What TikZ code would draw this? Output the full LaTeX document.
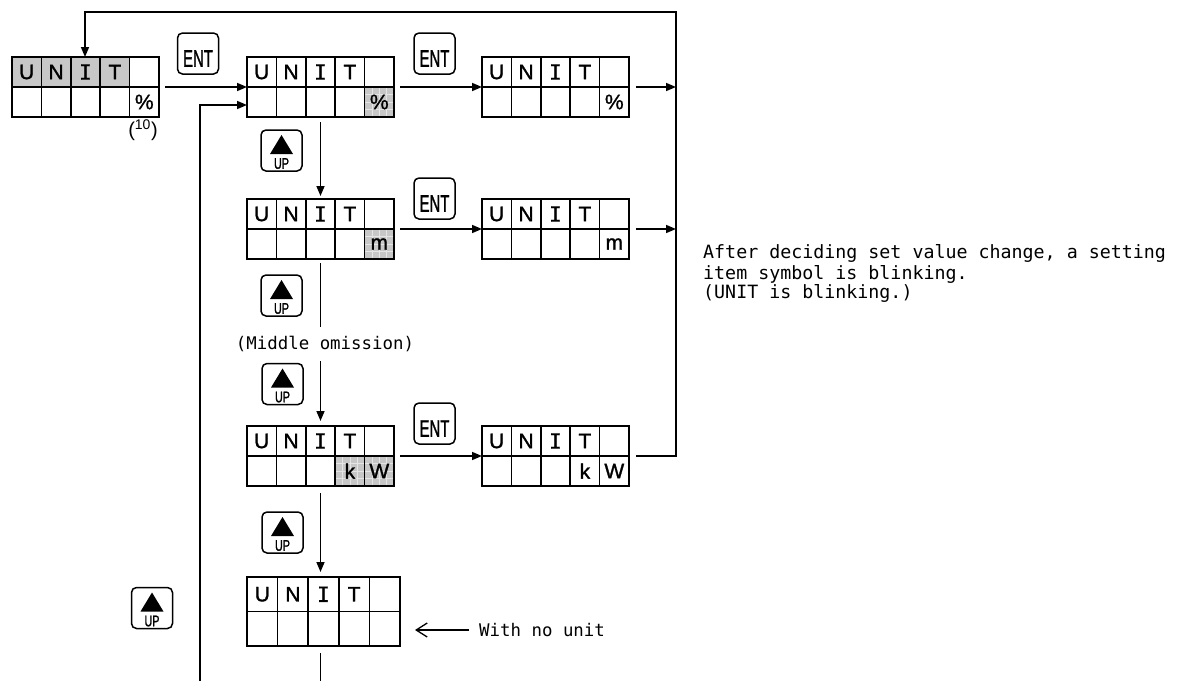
\documentclass[tikz,border=0pt]{standalone}
\usepackage{fontspec}
\setmainfont{Liberation Sans}
\newfontfamily\monof{DejaVu Sans Mono}
\newfontfamily\lcdf[FakeBold=1.3]{Liberation Sans}
\newfontfamily\lcdi[FakeBold=0.8]{DejaVu Sans Mono}
\newfontfamily\keyf[FakeBold=1.5]{Liberation Sans}
\usepackage{graphicx}
\usetikzlibrary{arrows.meta,calc}
\pgfdeclarelayer{bg}
\pgfsetlayers{bg,main}

\newcommand\lcd[5]{%
  \node[lcdframe, minimum width={5*#4}, minimum height={2*#5}, anchor=north west] (#1) at (#2,#3) {};
  \foreach \i in {1,...,4}{\draw[cellline] ($(#1.north west)+(\i*#4,0)$) -- ($(#1.south west)+(\i*#4,0)$);}
  \draw[cellline] (#1.west) -- (#1.east);
  \foreach \c [count=\i] in {U,N,{\lcdi I},T}{\node[lcdtxt] (#1-\i) at ($(#1.north west)+(\i*#4-#4/2,#5/2)$) {\c};}
}
\newcommand\lcdlow[5]{%
  \node[lcdtxt] (#1-low#2) at ($(#1.north west)+(#2*#3-#3/2,1.5*#4)$) {#5};}
\newcommand\shadeplain[5]{%
  \begin{pgfonlayer}{bg}
  \fill[lcdgray] ($(#1.north west)+(#2*#4-#4,#3*#5-#5)$) rectangle ($(#1.north west)+(#2*#4,#3*#5)$);
  \end{pgfonlayer}}
\newcommand\shadegrid[5]{%
  \begin{pgfonlayer}{bg}
  \fill[lcdgray] ($(#1.north west)+(#2*#4-#4,#3*#5-#5)$) rectangle ($(#1.north west)+(#2*#4,#3*#5)$);
  \foreach \k in {1,2,3}{%
    \draw[texline] ($(#1.north west)+(#2*#4-#4+\k*#4/4,#3*#5-#5)$) -- ++(0,#5);
    \draw[texline] ($(#1.north west)+(#2*#4-#4,#3*#5-#5+\k*#5/4)$) -- ++(#4,0);}
  \end{pgfonlayer}}
\newcommand\entkey[3]{%
  \node[keybox] (#1) at (#2,#3) {};
  \node[enttxt] (#1-t) at ([yshift=-5pt]#1.center) {\scalebox{0.62}[1]{ENT}};}
\newcommand\upkey[3]{%
  \node[keybox] (#1) at (#2,#3) {};
  \fill ([shift={(-11.5,3.5)}]#1.center) -- ([shift={(11.5,3.5)}]#1.center) -- ([shift={(0,-15.5)}]#1.center) -- cycle;
  \node[uptxt, anchor=base] (#1-t) at ([yshift=3pt]#1.south) {\scalebox{0.7}[1]{UP}};}

\begin{document}
\begin{tikzpicture}[x=1pt,y=-1pt,
  lcdframe/.style={draw, line width=2pt, inner sep=0pt, outer sep=0pt},
  cellline/.style={line width=1.6pt},
  lcdtxt/.style={font=\lcdf\fontsize{21}{21}\selectfont, inner sep=0pt},
  lcdgray/.style={fill=black!22},
  texline/.style={draw=black!10, line width=0.6pt},
  keybox/.style={draw, line width=1.5pt, rounded corners=5pt, minimum width=41pt, minimum height=41pt, inner sep=0pt},
  enttxt/.style={font=\keyf\fontsize{24}{24}\selectfont, inner sep=0pt},
  uptxt/.style={font=\keyf\fontsize{15.4}{16}\selectfont, inner sep=0pt},
  plain/.style={line width=1.6pt},
  arr/.style={line width=1.6pt, -{Triangle[length=10pt,width=8pt]}},
  openarr/.style={line width=1.3pt, -{Straight Barb[length=11pt,width=14pt]}},
  monotxt/.style={font=\monof\fontsize{17.4}{20}\selectfont, inner sep=0pt},
  notetxt/.style={font=\monof\fontsize{18.3}{21}\selectfont, inner sep=0pt, anchor=base west}]
\useasboundingbox (0,0) rectangle (1177,681);

% displays
\lcd{d1}{12}{57}{29.4}{30}
\lcdlow{d1}{5}{29.4}{30}{\%}
\foreach \j in {1,...,4}{\shadeplain{d1}{\j}{1}{29.4}{30}}
\node[font=\fontsize{20}{20}\selectfont, inner sep=0pt] (ten) at (143,130) {(\textsuperscript{10})};

\lcd{d2}{247}{57}{29.4}{30}
\lcdlow{d2}{5}{29.4}{30}{\%}
\shadegrid{d2}{5}{2}{29.4}{30}

\lcd{d3}{482}{57}{29.4}{30}
\lcdlow{d3}{5}{29.4}{30}{\%}

\lcd{d4}{247}{199}{29.4}{30}
\lcdlow{d4}{5}{29.4}{30}{m}
\shadegrid{d4}{5}{2}{29.4}{30}

\lcd{d5}{482}{199}{29.4}{30}
\lcdlow{d5}{5}{29.4}{30}{m}

\lcd{d6}{247}{426}{29.4}{30}
\lcdlow{d6}{4}{29.4}{30}{k}
\lcdlow{d6}{5}{29.4}{30}{W}
\shadegrid{d6}{4}{2}{29.4}{30}
\shadegrid{d6}{5}{2}{29.4}{30}

\lcd{d7}{482}{426}{29.4}{30}
\lcdlow{d7}{4}{29.4}{30}{k}
\lcdlow{d7}{5}{29.4}{30}{W}

\lcd{d8}{247}{577}{30.6}{34.5}

% keys
\entkey{e1}{198}{53.5}
\entkey{e2}{434.5}{53.5}
\entkey{e3}{434.5}{198.5}
\entkey{e4}{434.5}{423.5}
\upkey{u1}{281.5}{150.5}
\upkey{u2}{281.5}{295.5}
\upkey{u3}{282.5}{384}
\upkey{u4}{282.5}{532.5}
\upkey{u5}{152}{608}

% texts
\node[monotxt, minimum height=34pt] (mo) at (325,344) {(Middle omission)};
\node[monotxt, anchor=west] (wn) at (479,630) {With no unit};
\node[notetxt] (n1) at (703,258.5) {After deciding set value change, a setting};
\node[notetxt] (n2) at (703,279) {item symbol is blinking.};
\node[notetxt] (n3) at (703,298.5) {(UNIT is blinking.)};

% coordinates
\coordinate (rv) at (676,12);
\coordinate (tl) at (85,12);
\coordinate (botL) at (200,681);
\coordinate (bot) at (0,681);
\coordinate (sp8) at (d6.south |- d8.south);
\coordinate (wnA) at (d8.east |- wn.west);

% connectors
\draw[arr] ([xshift=6pt]d1.east) -- (d2.west);
\draw[arr] ([xshift=6pt]d2.east) -- (d3.west);
\draw[arr] ([xshift=6pt]d4.east) -- (d5.west);
\draw[arr] ([xshift=6pt]d6.east) -- (d7.west);
\draw[arr] ([xshift=7pt]d3.east) -- (d3.east -| rv);
\draw[arr] ([xshift=7pt]d5.east) -- (d5.east -| rv);
\draw[arr] ([xshift=7pt]d7.east) -| (rv) -- (tl) -- (tl |- d1.north);
\draw[arr] (botL) |- ([yshift=-18pt]d2.west);
\draw[arr, shorten >=3pt] ([yshift=-5pt]d2.south) -- (d4.north);
\draw[plain] ([yshift=-4pt]d4.south) -- (d4.south |- mo.north);
\draw[arr, shorten >=5pt] (d4.south |- mo.south) -- (d6.north);
\draw[arr, shorten >=5pt] ([yshift=-7pt]d6.south) -- (d6.south |- d8.north);
\draw[plain] ([yshift=-7pt]sp8) -- (sp8 |- bot);
\draw[openarr] ([xshift=-10pt]wn.west) -- ([xshift=15pt]wnA);
\end{tikzpicture}
\end{document}
